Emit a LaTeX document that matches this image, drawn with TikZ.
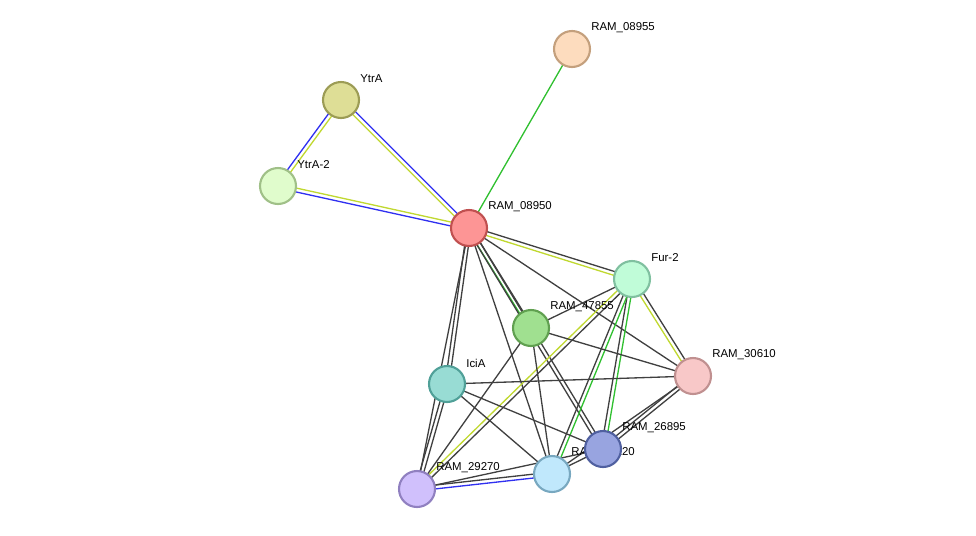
\documentclass[tikz,border=0pt]{standalone}
\usepackage{fontspec}
\setmainfont{Liberation Sans}
\usetikzlibrary{calc}
\tikzset{
  prot/.style={circle, minimum size=0.72cm, inner sep=0pt, line width=1.2pt},
  lbl/.style={anchor=west, inner sep=0pt, font=\fontsize{6.5}{7}\selectfont},
  edge/.style={line width=0.75pt}
}
\definecolor{cblk}{HTML}{404040}
\definecolor{cgrn}{HTML}{30C030}
\definecolor{cyel}{HTML}{C0D830}
\definecolor{cblu}{HTML}{3030F0}
% two parallel lines between two points
\newcommand\pedge[4]{%
  \draw[edge,#3] ($(#1)!1.1pt!90:(#2)$) -- ($(#2)!1.1pt!-90:(#1)$);
  \draw[edge,#4] ($(#1)!1.1pt!-90:(#2)$) -- ($(#2)!1.1pt!90:(#1)$);}
\begin{document}
\begin{tikzpicture}[x=0.02cm,y=-0.02cm]
  \useasboundingbox (0,0) rectangle (976,535);
  %POSISI
  \coordinate (r08955) at (572,49);
  \coordinate (ytra) at (341,100);
  \coordinate (ytra2) at (278,186);
  \coordinate (r08950) at (469,228);
  \coordinate (fur2) at (632,279);
  \coordinate (r47855) at (531,328);
  \coordinate (r30610) at (693,376);
  \coordinate (icia) at (447,384);
  \coordinate (r26895) at (603,449);
  \coordinate (r29120) at (552,474);
  \coordinate (r29270) at (417,489);

  %GARIS
  \draw[edge,cgrn] (r08955) -- (r08950);
  \pedge{ytra}{ytra2}{cyel}{cblu}
  \pedge{ytra}{r08950}{cblu}{cyel}
  \pedge{ytra2}{r08950}{cyel}{cblu}
  \pedge{r08950}{fur2}{cblk}{cyel}
  \pedge{r08950}{r47855}{cblk}{cgrn}
  \draw[edge,cblk] (r08950) -- (r30610);
  \pedge{r08950}{icia}{cblk}{cblk}
  \draw[edge,cblk] (r08950) -- (r29270);
  \draw[edge,cblk] (r08950) -- (r29120);
  \pedge{r08950}{r26895}{cblk}{cblk}
  \draw[edge,cblk] (fur2) -- (r47855);
  \pedge{fur2}{r30610}{cblk}{cyel}
  \pedge{fur2}{r26895}{cgrn}{cblk}
  \pedge{fur2}{r29120}{cgrn}{cblk}
  \pedge{fur2}{r29270}{cblk}{cyel}
  \draw[edge,cblk] (r47855) -- (r30610);
  \draw[edge,cblk] (r47855) -- (r29120);
  \draw[edge,cblk] (r47855) -- (r29270);
  \draw[edge,cblk] (icia) -- (r30610);
  \draw[edge,cblk] (icia) -- (r26895);
  \draw[edge,cblk] (icia) -- (r29120);
  \pedge{icia}{r29270}{cblk}{cblk}
  \pedge{r30610}{r26895}{cblk}{cblk}
  \draw[edge,cblk] (r30610) -- (r29120);
  \pedge{r29270}{r29120}{cblk}{cblu}
  \draw[edge,cblk] (r29270) -- (r26895);
  \draw[edge,cblk] (r29120) -- (r26895);

  %LABEL
  \node[lbl] at ($(r08955)+(19,-21)$) {RAM\_08955};
  \node[lbl] at ($(ytra)+(19,-21)$) {YtrA};
  \node[lbl] at ($(ytra2)+(19,-21)$) {YtrA-2};
  \node[lbl] at ($(r08950)+(19,-21)$) {RAM\_08950};
  \node[lbl] at ($(fur2)+(19,-21)$) {Fur-2};
  \node[lbl] at ($(r47855)+(19,-21)$) {RAM\_47855};
  \node[lbl] at ($(r30610)+(19,-21)$) {RAM\_30610};
  \node[lbl] at ($(icia)+(19,-21)$) {IciA};
  \node[lbl] at ($(r29120)+(19,-21)$) {RAM\_29120};
  \node[lbl] at ($(r29270)+(19,-21)$) {RAM\_29270};

  %SIMPUL
  \node[prot, fill={rgb,255:red,253;green,220;blue,190}, draw={rgb,255:red,196;green,160;blue,125}] (n08955) at (r08955) {};
  \node[prot, fill={rgb,255:red,222;green,222;blue,150}, draw={rgb,255:red,156;green,156;blue,85}] (nytra) at (ytra) {};
  \node[prot, fill={rgb,255:red,224;green,252;blue,204}, draw={rgb,255:red,160;green,192;blue,136}] (nytra2) at (ytra2) {};
  \node[prot, fill={rgb,255:red,253;green,149;blue,149}, draw={rgb,255:red,192;green,80;blue,80}] (n08950) at (r08950) {};
  \node[prot, fill={rgb,255:red,192;green,252;blue,216}, draw={rgb,255:red,128;green,192;blue,160}] (nfur2) at (fur2) {};
  \node[prot, fill={rgb,255:red,160;green,224;blue,144}, draw={rgb,255:red,96;green,160;blue,80}] (n47855) at (r47855) {};
  \node[prot, fill={rgb,255:red,248;green,200;blue,200}, draw={rgb,255:red,192;green,144;blue,144}] (n30610) at (r30610) {};
  \node[prot, fill={rgb,255:red,152;green,220;blue,212}, draw={rgb,255:red,80;green,160;blue,152}] (nicia) at (icia) {};
  \node[prot, fill={rgb,255:red,192;green,232;blue,252}, draw={rgb,255:red,120;green,168;blue,192}] (n29120) at (r29120) {};
  \node[prot, fill={rgb,255:red,208;green,192;blue,252}, draw={rgb,255:red,144;green,128;blue,192}] (n29270) at (r29270) {};
  \node[prot, fill={rgb,255:red,152;green,164;blue,224}, draw={rgb,255:red,80;green,96;blue,160}] (n26895) at (r26895) {};
  \node[lbl] at ($(r26895)+(19,-21)$) {RAM\_26895};
\end{tikzpicture}
\end{document}
